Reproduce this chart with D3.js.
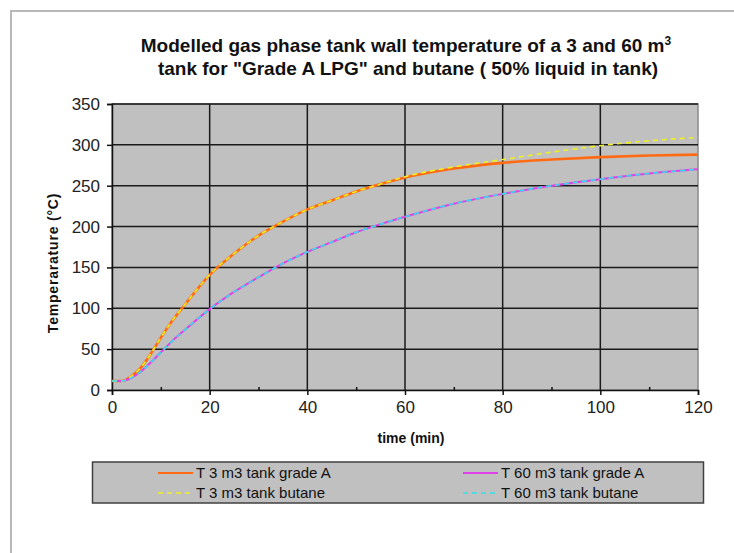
<!DOCTYPE html>
<html>
<head>
<meta charset="utf-8">
<script src="https://cdn.jsdelivr.net/npm/d3@7"></script>
<style>
body { margin: 0; background: #fff; }
text { font-family: "Liberation Sans", Arial, sans-serif; }
</style>
</head>
<body>
<script>
var times = [0, 2, 4, 6, 8, 10, 12, 15, 20, 25, 30, 35, 40, 45, 50, 55, 60, 70, 80, 90, 100, 110, 120];
var t3_gradeA = [11, 11, 17, 28, 45, 64, 82, 105, 141, 167, 189, 206, 221, 232, 243, 252, 260, 271, 278, 282, 285, 287, 288];
var t3_butane = [11, 11, 17, 28, 45, 64, 82, 105, 141, 167, 189, 206, 221, 232, 243, 252, 261, 273, 282, 291, 299, 305, 309];
var t60_gradeA = [11, 11, 15, 23, 34, 46, 58, 74, 99, 120, 138, 155, 169, 181, 193, 203, 212, 228, 240, 250, 258, 265, 270];
var t60_butane = [11, 11, 15, 23, 34, 46, 58, 74, 99, 120, 138, 155, 169, 181, 193, 203, 212, 228, 240, 250, 258, 265, 270];
var xTicks = [0, 20, 40, 60, 80, 100, 120];
var xMinor = [10, 30, 50, 70, 90, 110];
var yTicks = [0, 50, 100, 150, 200, 250, 300, 350];

var series = [
	{name: "T 3 m3 tank grade A", vals: t3_gradeA, color: "#ff6a13", dash: null, w: 2.6},
	{name: "T 60 m3 tank grade A", vals: t60_gradeA, color: "#e040e8", dash: null, w: 2},
	{name: "T 3 m3 tank butane", vals: t3_butane, color: "#f0f020", dash: "5,4", w: 1.6},
	{name: "T 60 m3 tank butane", vals: t60_butane, color: "#30e0ec", dash: "5,4", w: 1.6}
];

var W = 734, H = 553;
var svg = d3.select("body").append("svg").attr("width", W).attr("height", H);

// outer frame (only top and left edges visible)
svg.append("path")
	.attr("d", "M11,553 L11,11 L734,11")
	.attr("fill", "none")
	.attr("stroke", "#b8b8b8")
	.attr("stroke-width", 2);

var x = d3.scaleLinear().domain([0, 120]).range([112, 698]);
var y = d3.scaleLinear().domain([0, 350]).range([390, 104]);

// plot area
svg.append("rect")
	.attr("x", x(0)).attr("y", y(350))
	.attr("width", x(120) - x(0)).attr("height", y(0) - y(350))
	.attr("fill", "#c0c0c0")
	.attr("stroke", "#8a8a8a")
	.attr("stroke-width", 1.5);

// gridlines
svg.append("g").selectAll("line").data(yTicks.slice(1))
	.enter().append("line")
	.attr("x1", x(0)).attr("x2", x(120))
	.attr("y1", function(d){ return y(d); }).attr("y2", function(d){ return y(d); })
	.attr("stroke", "#1a1a1a").attr("stroke-width", 1.5);
svg.append("g").selectAll("line").data(xTicks.slice(1, -1))
	.enter().append("line")
	.attr("y1", y(0)).attr("y2", y(350))
	.attr("x1", function(d){ return x(d); }).attr("x2", function(d){ return x(d); })
	.attr("stroke", "#1a1a1a").attr("stroke-width", 1.5);

// axes
var xAxis = svg.append("g")
	.attr("transform", "translate(0," + y(0) + ")")
	.call(d3.axisBottom(x).tickValues(xTicks).tickSize(5).tickPadding(6));
var xAxisMinor = svg.append("g")
	.attr("transform", "translate(0," + y(0) + ")")
	.call(d3.axisTop(x).tickValues(xMinor).tickSize(3).tickFormat(""));
var yAxis = svg.append("g")
	.attr("transform", "translate(" + x(0) + ",0)")
	.call(d3.axisLeft(y).tickValues(yTicks).tickSize(5).tickPadding(7));

[xAxis, xAxisMinor, yAxis].forEach(function(g){
	g.select(".domain").attr("stroke", "#111").attr("stroke-width", 1.5);
	g.selectAll(".tick line").attr("stroke", "#111").attr("stroke-width", 1.5);
	g.selectAll(".tick text").attr("font-size", 17).attr("fill", "#222")
		.style("font-family", "'Liberation Sans', Arial, sans-serif");
});
xAxisMinor.select(".domain").remove();

// lines
var line = d3.line()
	.x(function(d, i){ return x(times[i]); })
	.y(function(d){ return y(d); })
	.curve(d3.curveMonotoneX);

svg.append("g").selectAll("path").data(series)
	.enter().append("path")
	.attr("d", function(s){ return line(s.vals); })
	.attr("fill", "none")
	.attr("stroke", function(s){ return s.color; })
	.attr("stroke-width", function(s){ return s.w; })
	.attr("stroke-dasharray", function(s){ return s.dash; });

// title
var title = svg.append("text")
	.attr("x", 406).attr("y", 52)
	.attr("text-anchor", "middle")
	.attr("font-size", 19).attr("font-weight", "bold").attr("fill", "#111");
title.append("tspan").text("Modelled gas phase tank wall temperature of a 3 and 60 m");
title.append("tspan").attr("dy", -7).attr("font-size", 12).text("3");
svg.append("text")
	.attr("x", 408).attr("y", 75)
	.attr("text-anchor", "middle")
	.attr("font-size", 19).attr("font-weight", "bold").attr("fill", "#111")
	.text("tank for \"Grade A LPG\" and butane ( 50% liquid in tank)");

// axis titles
svg.append("text")
	.attr("transform", "translate(58,263) rotate(-90)")
	.attr("text-anchor", "middle")
	.attr("font-size", 14).attr("font-weight", "bold").attr("fill", "#111")
	.attr("letter-spacing", 0.8)
	.text("Temperarature  (°C)");
svg.append("text")
	.attr("x", 411).attr("y", 443)
	.attr("text-anchor", "middle")
	.attr("font-size", 14).attr("font-weight", "bold").attr("fill", "#111")
	.text("time (min)");

// legend
svg.append("rect")
	.attr("x", 92.5).attr("y", 462)
	.attr("width", 611).attr("height", 41)
	.attr("fill", "#c0c0c0")
	.attr("stroke", "#404040")
	.attr("stroke-width", 1.5);

var legendPos = [
	{s: series[0], lx: 158, ly: 473},
	{s: series[1], lx: 463, ly: 473},
	{s: series[2], lx: 158, ly: 493},
	{s: series[3], lx: 463, ly: 493}
];
var lg = svg.append("g").selectAll("g").data(legendPos).enter().append("g");
lg.append("line")
	.attr("x1", function(d){ return d.lx; }).attr("x2", function(d){ return d.lx + 35; })
	.attr("y1", function(d){ return d.ly; }).attr("y2", function(d){ return d.ly; })
	.attr("stroke", function(d){ return d.s.color; })
	.attr("stroke-width", function(d){ return d.s.dash ? 1.6 : 2; })
	.attr("stroke-dasharray", function(d){ return d.s.dash; });
lg.append("text")
	.attr("x", function(d){ return d.lx + 38; })
	.attr("y", function(d){ return d.ly + 5; })
	.attr("font-size", 15).attr("fill", "#111")
	.text(function(d){ return d.s.name; });
</script>
</body>
</html>
